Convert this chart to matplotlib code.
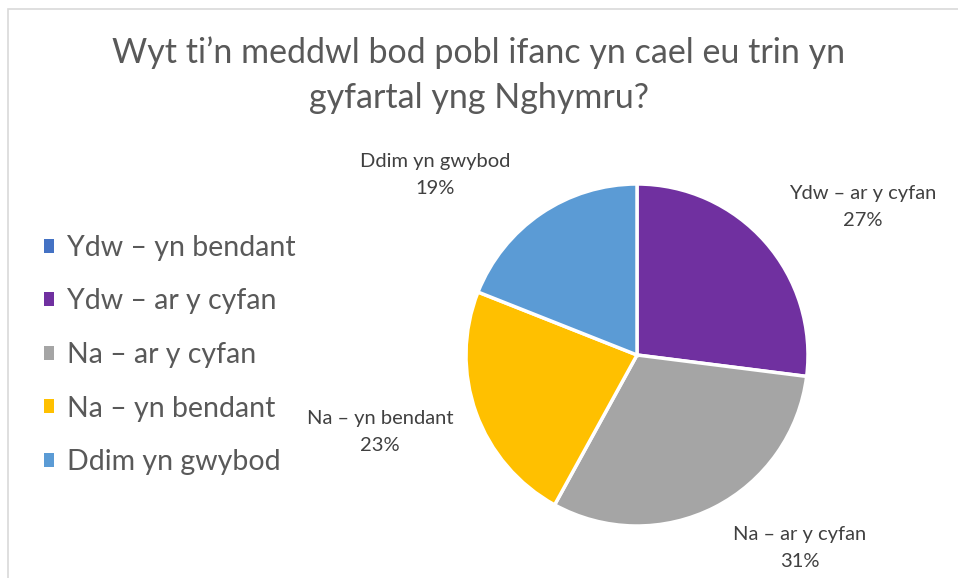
import matplotlib.pyplot as plt
from matplotlib.patches import Rectangle

plt.rcParams['font.family'] = ['Lato', 'DejaVu Sans']

title = 'Wyt ti’n meddwl bod pobl ifanc yn cael eu trin yn\ngyfartal yng Nghymru?'
categories = ['Ydw – yn bendant', 'Ydw – ar y cyfan', 'Na – ar y cyfan',
              'Na – yn bendant', 'Ddim yn gwybod']
values = [0, 27, 31, 23, 19]
colors = ['#4472C4', '#7030A0', '#A5A5A5', '#FFC000', '#5B9BD5']

W, H = 958, 578
fig = plt.figure(figsize=(W / 100, H / 100), dpi=100)
fig.patches.append(Rectangle((8 / W, -0.01), 1.0, 1 - 9 / H + 0.01, transform=fig.transFigure,
                             facecolor='white', edgecolor='#D9D9D9', linewidth=1.2,
                             zorder=-5))

ax = fig.add_axes([0, 0, 1, 1])
ax.patch.set_alpha(0)
cx, cy, r = 637, H - 355, 171
wedges, _ = ax.pie(values, colors=colors, startangle=90, counterclock=False,
                   radius=r, center=(cx, cy),
                   wedgeprops=dict(edgecolor='white', linewidth=2.5))
ax.set_xlim(0, W)
ax.set_ylim(0, H)
ax.set_aspect('equal')
ax.axis('off')

# data label offsets from pie centre (pixels), skipping the empty slice
offsets = {1: (226, 148), 2: (163, -193), 3: (-257, -77), 4: (-202, 180)}
for i, (dx, dy) in offsets.items():
    ax.text(cx + dx, cy + dy, f'{categories[i]}\n{values[i]}%', ha='center', va='center',
            fontsize=14.5, color='#404040', linespacing=1.65)

fig.text(0.5, 1 - 75 / H, title, ha='center', va='center', fontsize=24.5,
         color='#595959', linespacing=1.5)

leg = ax.legend(wedges, categories, loc='center left', bbox_to_anchor=(18 / W, 1 - 355 / H),
                frameon=False, fontsize=20.5, labelcolor='#595959', handlelength=0.38,
                handleheight=0.38, handletextpad=0.45, labelspacing=0.97)
for h in leg.legend_handles:
    h.set_edgecolor('none')

fig.savefig('out.png', dpi=100)
